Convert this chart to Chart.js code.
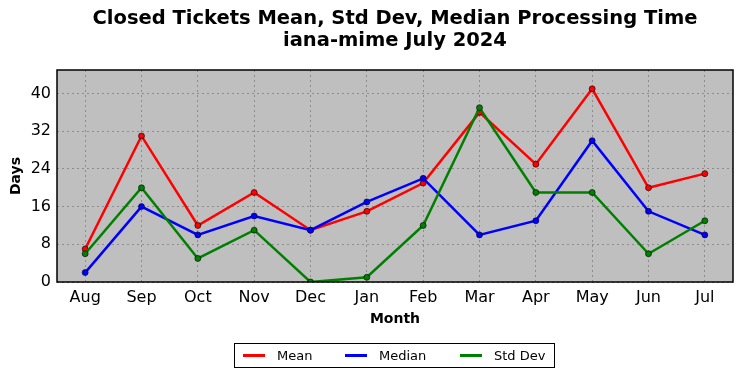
<!DOCTYPE html>
<html>
<head>
<meta charset="utf-8">
<script src="https://cdn.jsdelivr.net/npm/chart.js@4"></script>
<style>
  body { margin: 0; background: #fff; font-family: 'DejaVu Sans', sans-serif; }
  #wrap { position: relative; width: 742px; height: 378px; }
  #chart { position: absolute; left: 0; top: 0; }
  #title {
    position: absolute; left: 57px; width: 676px; top: 7px;
    text-align: center; font-weight: bold; font-size: 19.5px; line-height: 22px; color: #000;
  }
  #legend {
    position: absolute; left: 234px; top: 343px; width: 319px; height: 23px;
    border: 1px solid #000; font-size: 13px; color: #000; white-space: nowrap;
  }
  .item { position: absolute; top: 0; height: 23px; display: flex; align-items: center; }
  .swatch { width: 22px; height: 3px; margin-right: 12px; }
</style>
</head>
<body>
<div id="wrap">
  <canvas id="chart" width="742" height="378"></canvas>
  <div id="title">Closed Tickets Mean, Std Dev, Median Processing Time<br>iana-mime July 2024</div>
  <div id="legend"></div>
</div>
<script>
const months = ['Aug', 'Sep', 'Oct', 'Nov', 'Dec', 'Jan', 'Feb', 'Mar', 'Apr', 'May', 'Jun', 'Jul'];
const meanDays = [7, 31, 12, 19, 11, 15, 21, 36, 25, 41, 20, 23];
const medianDays = [2, 16, 10, 14, 11, 17, 22, 10, 13, 30, 15, 10];
const stdDevDays = [6, 20, 5, 11, 0, 1, 12, 37, 19, 19, 6, 13];
const yTicks = [0, 8, 16, 24, 32, 40];

const series = [
  { label: 'Mean', data: meanDays, color: '#ff0000', order: 2 },
  { label: 'Median', data: medianDays, color: '#0000ff', order: 1 },
  { label: 'Std Dev', data: stdDevDays, color: '#008000', order: 0 },
];

// legend built from the series list, one slot per entry
const legendSlots = [8, 110, 225];
const legendEl = document.getElementById('legend');
series.forEach((s, i) => {
  const item = document.createElement('div');
  item.className = 'item';
  item.style.left = `${legendSlots[i]}px`;
  item.innerHTML = `<span class="swatch" style="background:${s.color}"></span><span>${s.label}</span>`;
  legendEl.appendChild(item);
});

const plotFrame = {
  id: 'plotFrame',
  beforeDraw: (chart) => {
    const { ctx, chartArea: a } = chart;
    ctx.save();
    ctx.fillStyle = '#bfbfbf';
    ctx.fillRect(a.left, a.top, a.right - a.left, a.bottom - a.top);
    ctx.restore();
  },
  afterDatasetsDraw: (chart) => {
    const { ctx, chartArea: a } = chart;
    ctx.save();
    ctx.strokeStyle = '#000';
    ctx.lineWidth = 1.5;
    ctx.strokeRect(a.left, a.top, a.right - a.left, a.bottom - a.top);
    ctx.restore();
  },
};

const font = { family: "'DejaVu Sans', sans-serif" };

new Chart(document.getElementById('chart'), {
  type: 'line',
  data: {
    labels: months,
    datasets: series.map((s) => ({
      label: s.label,
      data: s.data,
      order: s.order,
      borderColor: s.color,
      backgroundColor: s.color,
      borderWidth: 2.5,
      pointRadius: 3,
      pointBorderColor: '#000',
      pointBorderWidth: 0.6,
      pointBackgroundColor: s.color,
      tension: 0,
      fill: false,
    })),
  },
  plugins: [plotFrame],
  options: {
    responsive: false,
    animation: false,
    layout: { padding: { top: 70, right: 9, left: 0, bottom: 50 } },
    plugins: {
      legend: { display: false },
      tooltip: { enabled: false },
    },
    scales: {
      x: {
        offset: true,
        grid: { color: '#8c8c8c', tickLength: 0, offset: false, drawTicks: false },
        border: { display: false, dash: [2, 3] },
        ticks: { color: '#000', font: { ...font, size: 16 }, padding: 6, maxRotation: 0 },
        title: { display: true, text: 'Month', color: '#000', font: { ...font, size: 14, weight: 'bold' }, padding: { top: 4, bottom: 0 } },
        afterFit: (scale) => { scale.height = 46; },
      },
      y: {
        min: 0,
        max: 45,
        afterBuildTicks: (scale) => { scale.ticks = yTicks.map((v) => ({ value: v })); },
        grid: { color: '#8c8c8c', tickLength: 0, drawTicks: false },
        border: { display: false, dash: [2, 3] },
        ticks: { color: '#000', font: { ...font, size: 16 }, padding: 6 },
        title: { display: true, text: 'Days', color: '#000', font: { ...font, size: 14, weight: 'bold' }, padding: { top: 8, bottom: 0 } },
        afterFit: (scale) => { scale.width = 57; },
      },
    },
  },
});
</script>
</body>
</html>
